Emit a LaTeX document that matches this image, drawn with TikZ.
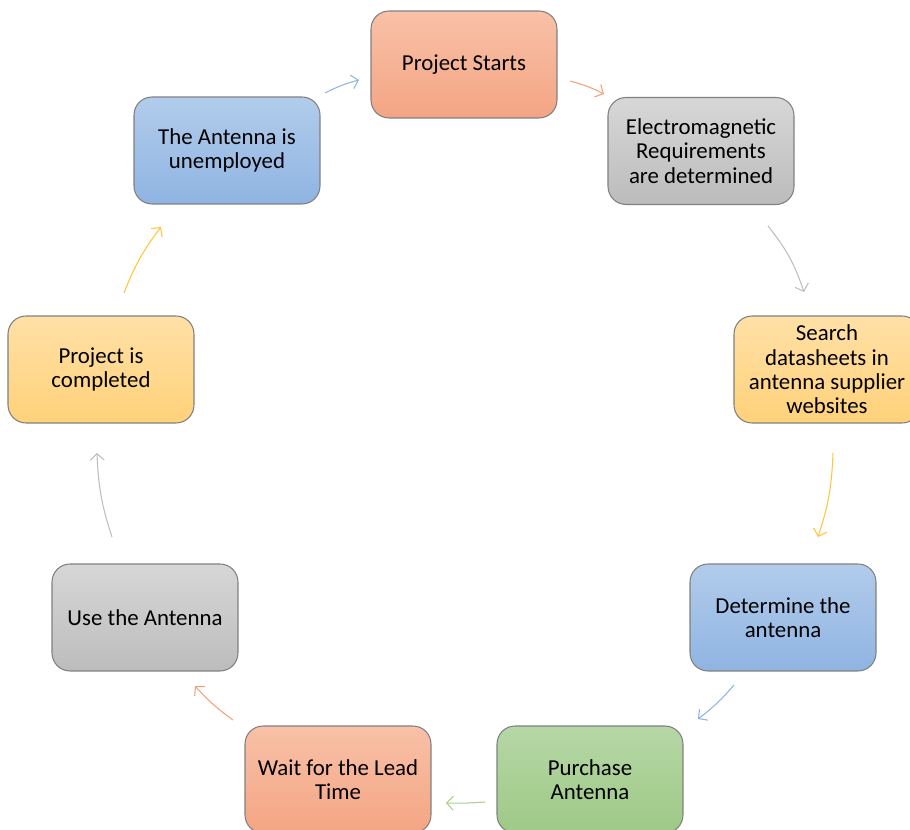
\documentclass[tikz,border=0pt]{standalone}
\usepackage{fontspec}
\setmainfont{Carlito}
\usetikzlibrary{arrows.meta}
\definecolor{boxline}{RGB}{128,128,128}
\definecolor{orgtop}{RGB}{248,193,168}
\definecolor{orgbot}{RGB}{244,165,131}
\definecolor{gratop}{RGB}{215,215,215}
\definecolor{grabot}{RGB}{188,188,188}
\definecolor{yeltop}{RGB}{255,224,166}
\definecolor{yelbot}{RGB}{255,210,122}
\definecolor{blutop}{RGB}{178,204,235}
\definecolor{blubot}{RGB}{143,180,226}
\definecolor{gretop}{RGB}{182,215,166}
\definecolor{grebot}{RGB}{158,201,134}
\definecolor{orgline}{RGB}{244,160,122}
\definecolor{graline}{RGB}{190,190,190}
\definecolor{yelline}{RGB}{255,196,60}
\definecolor{bluline}{RGB}{141,180,227}
\definecolor{greline}{RGB}{165,208,140}

\begin{document}
\begin{tikzpicture}[x=0.02cm, y=0.02cm]
    \tikzset{stage/.style={rectangle, rounded corners=0.36cm, draw=boxline, line width=0.6pt,
        minimum width=3.72cm, minimum height=2.14cm, align=center,
        font=\fontsize{13}{13.9}\selectfont, text=black}}
    \tikzset{flow/.style={line width=0.6pt, -{Straight Barb[length=1.3mm,width=2.8mm]}}}
    \useasboundingbox (0,0) rectangle (910,-830);
    \clip (0,0) rectangle (910,-830);
    \node [stage, top color=orgtop, bottom color=orgbot] (starts) at (464,-64.5) {Project Starts};
    \node [stage, top color=gratop, bottom color=grabot] (emreq) at (701,-151) {Electromagnetic\\Requirements\\are determined};
    \node [stage, top color=yeltop, bottom color=yelbot] (search) at (827,-369.5) {Search\\datasheets in\\antenna supplier\\websites};
    \node [stage, top color=blutop, bottom color=blubot] (determine) at (783,-617.5) {Determine the\\antenna};
    \node [stage, top color=gretop, bottom color=grebot] (purchase) at (590,-779.5) {Purchase\\Antenna};
    \node [stage, top color=orgtop, bottom color=orgbot] (wait) at (338,-779.5) {Wait for the Lead\\Time};
    \node [stage, top color=gratop, bottom color=grabot] (use) at (145,-617.5) {Use the Antenna};
    \node [stage, top color=yeltop, bottom color=yelbot] (completed) at (101,-369.5) {Project is\\completed};
    \node [stage, top color=blutop, bottom color=blubot] (unemployed) at (227,-150.5) {The Antenna is\\unemployed};
    \coordinate (starts-out) at (570,-81);
    \coordinate (emreq-in) at (604,-94);
    \coordinate (emreq-out) at (768,-226);
    \coordinate (search-in) at (804,-292);
    \coordinate (search-out) at (833,-453);
    \coordinate (determine-in) at (818,-537);
    \coordinate (determine-out) at (734,-685);
    \coordinate (purchase-in) at (698,-719);
    \coordinate (purchase-out) at (485,-802);
    \coordinate (wait-in) at (446,-803);
    \coordinate (wait-out) at (233,-720);
    \coordinate (use-in) at (195,-686);
    \coordinate (use-out) at (112,-537);
    \coordinate (completed-in) at (97,-453);
    \coordinate (completed-out) at (124,-293);
    \coordinate (unemployed-in) at (161,-227);
    \coordinate (unemployed-out) at (325,-93);
    \coordinate (starts-in) at (359,-80);
    \draw [flow, orgline] (starts-out) to [bend left=6] (emreq-in);
    \draw [flow, graline] (emreq-out) to [bend left=10] (search-in);
    \draw [flow, yelline] (search-out) to [bend left=8] (determine-in);
    \draw [flow, bluline] (determine-out) to [bend left=6] (purchase-in);
    \draw [flow, greline] (purchase-out) to [bend left=3] (wait-in);
    \draw [flow, orgline] (wait-out) to [bend left=6] (use-in);
    \draw [flow, graline] (use-out) to [bend left=8] (completed-in);
    \draw [flow, yelline] (completed-out) to [bend left=8] (unemployed-in);
    \draw [flow, bluline] (unemployed-out) to [bend left=6] (starts-in);
\end{tikzpicture}
\end{document}
